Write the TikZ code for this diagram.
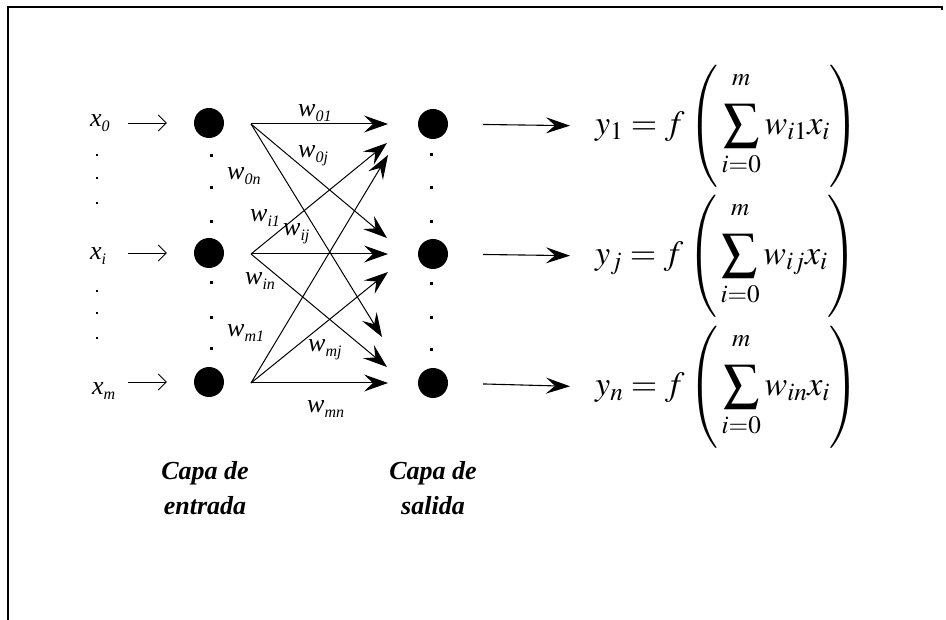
\documentclass[tikz,border=0pt]{standalone}
\usepackage{mathptmx}
\usepackage{fontspec}
\setmainfont{Liberation Serif}
\usetikzlibrary{arrows.meta}
\newcommand{\wsub}[2]{#1\raisebox{-5pt}{\fontsize{16}{16}\selectfont #2}}
\newcommand{\bigsumsym}{\mathop{\vcenter{\hbox{\scalebox{1.5}{$\textstyle\sum$}}}}}
\newcommand{\eqbox}[2]{\fontsize{34}{36}\selectfont$\displaystyle y_{#1}=f\left(\rule[-50pt]{0pt}{116pt}\bigsumsym\limits_{\rule{0pt}{19pt}i=0}^{m\rule[-15pt]{0pt}{0pt}}w_{#2}x_i\right)$}
\begin{document}
\begin{tikzpicture}[x=1pt,y=-1pt,
  neuron/.style={circle,fill=black,minimum size=30pt,inner sep=0pt},
  wgt/.style={-{Stealth[length=24pt,width=17pt,inset=9pt]},line width=1pt},
  inarr/.style={-{Straight Barb[length=8pt,width=16pt]},line width=0.8pt},
  outarr/.style={-{Stealth[length=24pt,width=16pt,inset=9pt]},line width=1.1pt},
  lbl/.style={font=\fontsize{26}{28}\selectfont\itshape,inner sep=0pt,anchor=base west},
  dotm/.style={rectangle,fill=black,minimum size=3pt,inner sep=0pt},
  dots/.style={rectangle,fill=black,minimum size=1.5pt,inner sep=0pt},
  capa/.style={font=\fontsize{26}{35}\selectfont\bfseries\itshape,align=center,inner sep=0pt},
  eq/.style={anchor=west,inner sep=0pt}]
\useasboundingbox (0,0) rectangle (946,620);
\draw[line width=1.5pt] (8,620) -- (8,7) -- (942,7) -- (942,10);
% neurons
\node[neuron] (in0) at (209,123) {};
\node[neuron] (in1) at (209,253) {};
\node[neuron] (in2) at (209,382) {};
\node[neuron] (out0) at (433,124) {};
\node[neuron] (out1) at (433,254) {};
\node[neuron] (out2) at (433,383) {};
% dots
\foreach \yy [count=\k] in {156,188,222,283,318,349} {\node[dotm] (di\k) at (211,\yy) {};}
\foreach \yy [count=\k] in {155,188,222,284,318,350} {\node[dotm] (do\k) at (431,\yy) {};}
\foreach \yy [count=\k] in {155,178,203,291,313,338} {\node[dots] (dl\k) at (97,\yy) {};}
% input labels
\node[lbl] (x0) at (90,127) {\wsub{x}{0}};
\node[lbl] (xi) at (90,260) {\wsub{x}{i}};
\node[lbl] (xm) at (92,395) {\wsub{x}{m}};
\coordinate (a0) at (128,123);
\coordinate (a1) at (128,253);
\coordinate (a2) at (128,382);
\draw[inarr,shorten >=27pt] (a0) -- (in0);
\draw[inarr,shorten >=27pt] (a1) -- (in1);
\draw[inarr,shorten >=27pt] (a2) -- (in2);
% weight connectors
\coordinate (s0) at (251,124);
\coordinate (s1) at (251,254);
\coordinate (s2) at (251,383);
\coordinate (t00) at (388,124);
\coordinate (t01) at (387,238);
\coordinate (t02) at (382,337);
\coordinate (t10) at (387,143);
\coordinate (t11) at (388,254);
\coordinate (t12) at (387,367);
\coordinate (t20) at (388,155);
\coordinate (t21) at (388,272);
\coordinate (t22) at (388,383);
\foreach \a in {0,1,2} {\foreach \b in {0,1,2} {\draw[wgt] (s\a) -- (t\a\b);}}
% weight labels
\node[lbl] (w01) at (298,117) {\wsub{w}{01}};
\node[lbl] (w0j) at (298,158) {\wsub{w}{0j}};
\node[lbl] (w0n) at (227,180) {\wsub{w}{0n}};
\node[lbl] (wi1) at (250,222) {\wsub{w}{i1}};
\node[lbl] (wij) at (283,236) {\wsub{w}{ij}};
\node[lbl] (win) at (245,285) {\wsub{w}{in}};
\node[lbl] (wm1) at (227,337) {\wsub{w}{m1}};
\node[lbl] (wmj) at (308,352) {\wsub{w}{mj}};
\node[lbl] (wmn) at (307,413) {\wsub{w}{mn}};
% equations
\node[eq] (eq0) at (595,126) {\eqbox{1}{i1}};
\node[eq] (eq1) at (595,256) {\eqbox{j}{ij}};
\node[eq] (eq2) at (595,387) {\eqbox{n}{in}};
\draw[outarr,shorten <=35pt,shorten >=25pt] (out0.east) -- (eq0.west);
\draw[outarr,shorten <=35pt,shorten >=25pt] (out1.east) -- (eq1.west);
\draw[outarr,shorten <=35pt,shorten >=25pt] (out2.east) -- (eq2.west);
% layer captions
\node[capa] (cin) at (205,488) {Capa de\\entrada};
\node[capa] (cout) at (433,488) {Capa de\\salida};
\end{tikzpicture}
\end{document}
